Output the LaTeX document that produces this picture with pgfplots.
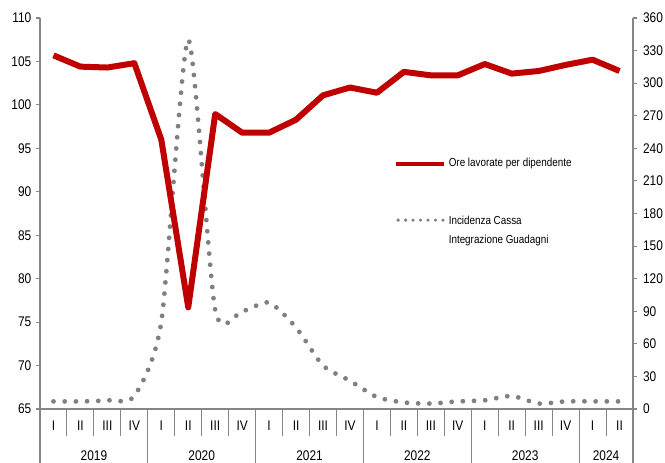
\documentclass[border=0pt]{standalone}
\usepackage{fontspec}
\setmainfont{Liberation Sans}[FakeStretch=0.85]
\usepackage{pgfplots}
\pgfplotsset{compat=1.18}
\definecolor{redl}{RGB}{192,0,0}
\definecolor{dotg}{RGB}{128,128,128}
\definecolor{axg}{RGB}{134,134,134}
\begin{document}
\begin{tikzpicture}
\useasboundingbox (-30pt,-40.5pt) rectangle (468.75pt,306.75pt);
% right axis: Cassa Integrazione
\begin{axis}[
  at={(0pt,0pt)}, anchor=south west,
  scale only axis, width=444.75pt, height=293.25pt,
  xmin=0, xmax=22, ymin=0, ymax=360,
  ytick={0,30,...,360},
  axis y line=right, axis x line=none,
  axis line style={-, draw=axg, line width=0.8pt},
  tick align=outside, major tick length=3pt,
  y tick style={draw=axg, line width=0.8pt},
  /pgf/number format/assume math mode=true,
  ticklabel style={font=\fontsize{10.5}{12}\selectfont},
  yticklabel style={xshift=1pt},
  clip=false,
  legend style={draw=none, fill=none, at={(0.59,0.655)}, anchor=north west,
    font=\fontsize{8.7}{10.5}\selectfont, row sep=30pt},
  legend cell align=left,
]
\addlegendimage{legend image code/.code={\draw[redl, line width=3pt] (0pt,0pt) -- (36pt,0pt);}}
\addlegendentry{Ore lavorate per dipendente}
\addplot[dotg, smooth, tension=0.4, line width=3.6pt, line cap=round, dash pattern=on 0pt off 8.4pt, forget plot] coordinates {
(0.5,7) (1.5,7) (2.5,8) (3.5,12) (4.5,80) (5.5,340) (6.5,91) (7.5,90) (8.5,98) (9.5,75)
(10.5,40) (11.5,26) (12.5,11) (13.5,6) (14.5,5) (15.5,7) (16.5,8) (17.5,12) (18.5,5)
(19.5,7) (20.5,7) (21.5,7)};
\addlegendimage{legend image code/.code={\draw[dotg, line width=2.7pt, line cap=round, dash pattern=on 0pt off 5.6pt] (1.5pt,0pt) -- (36pt,0pt);}}
\addlegendentry{\begin{tabular}[t]{@{}l@{}}Incidenza Cassa\\[4pt]Integrazione Guadagni\end{tabular}}
\draw[axg, line width=0.8pt] (axis cs:22,0) -- ([yshift=-40.5pt]axis cs:22,0);
\end{axis}
% left axis: Ore lavorate
\begin{axis}[
  at={(0pt,0pt)}, anchor=south west,
  scale only axis, width=444.75pt, height=293.25pt,
  xmin=0, xmax=22, ymin=65, ymax=110,
  ytick={65,70,...,110},
  axis x line=bottom, axis y line=left,
  axis line style={-, draw=axg, line width=0.8pt},
  tick align=outside, major tick length=3pt, minor tick length=20pt,
  y tick style={draw=axg, line width=0.8pt},
  xtick={0.5,1.5,...,21.5},
  xticklabels={I,II,III,IV,I,II,III,IV,I,II,III,IV,I,II,III,IV,I,II,III,IV,I,II},
  major x tick style={draw=none},
  minor xtick={1,2,...,21},
  minor x tick style={draw=axg, line width=0.8pt},
  extra x ticks={2,6,10,14,18,21},
  extra x tick labels={2019,2020,2021,2022,2023,2024},
  extra x tick style={major x tick style={draw=none}, xticklabel style={yshift=-22.5pt}},
  /pgf/number format/assume math mode=true,
  ticklabel style={font=\fontsize{10.5}{12}\selectfont},
  xticklabel style={yshift=-2pt},
  clip=false,
]
\addplot[redl, line width=4.5pt, line join=round] coordinates {
(0.5,105.7) (1.5,104.4) (2.5,104.3) (3.5,104.8) (4.5,96.0) (5.5,76.7) (6.5,98.95) (7.5,96.8)
(8.5,96.8) (9.5,98.3) (10.5,101.1) (11.5,102.0) (12.5,101.4) (13.5,103.8) (14.5,103.4)
(15.5,103.4) (16.5,104.7) (17.5,103.6) (18.5,103.9) (19.5,104.6) (20.5,105.2) (21.5,103.9)};
\pgfplotsinvokeforeach{0,4,8,12,16,20}{
  \draw[axg, line width=0.8pt] (axis cs:#1,65) -- ([yshift=-40.5pt]axis cs:#1,65);
}
\end{axis}
\end{tikzpicture}
\end{document}
